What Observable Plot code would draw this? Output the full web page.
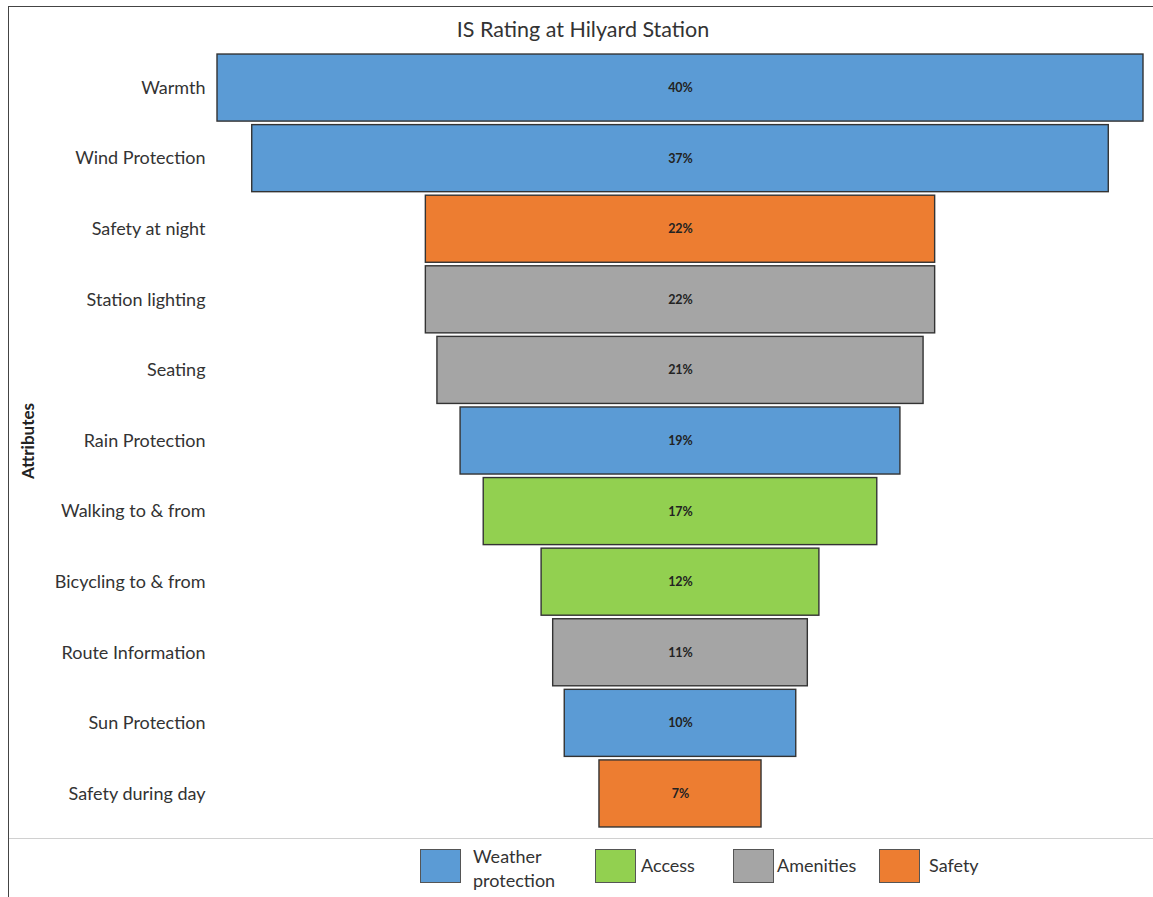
<!DOCTYPE html>
<html>
<head>
<meta charset="utf-8">
<script src="https://cdn.jsdelivr.net/npm/d3@7"></script>
<script src="https://cdn.jsdelivr.net/npm/@observablehq/plot@0.6"></script>
<style>
  html, body { margin: 0; padding: 0; background: #fff; }
  #page {
    position: relative; width: 1153px; height: 897px; overflow: hidden;
    font-family: Lato, "Open Sans", sans-serif; color: #333;
  }
  #frame-top { position: absolute; left: 8px; top: 6px; right: 0; height: 0; border-top: 1.5px solid #444; }
  #frame-left { position: absolute; left: 8px; top: 6px; bottom: 0; width: 0; border-left: 1.5px solid #444; }
  #legend-rule { position: absolute; left: 9px; top: 838px; right: 0; height: 0; border-top: 1px solid #d0d0d0; }
  #title {
    position: absolute; top: 16px; left: 383px; width: 400px; text-align: center;
    font-size: 21.5px; color: #333;
  }
  #chart { position: absolute; left: 0; top: 0; }
  .legend-item { position: absolute; top: 848px; display: flex; align-items: flex-start; }
  .legend-swatch { width: 41px; height: 34px; box-sizing: border-box; border: 1.2px solid #555; margin-top: 1px; }
  .legend-label { font-size: 18px; line-height: 24px; margin-left: 12px; color: #333; }
</style>
</head>
<body>
<div id="page">
  <div id="chart"></div>
  <div id="frame-top"></div>
  <div id="frame-left"></div>
  <div id="legend-rule"></div>
  <div id="title">IS Rating at Hilyard Station</div>
  <div id="legend"></div>
</div>
<script>
// Attributes ranked by share of importance, top to bottom
const attributes = [
  "Warmth", "Wind Protection", "Safety at night", "Station lighting", "Seating",
  "Rain Protection", "Walking to & from", "Bicycling to & from", "Route Information",
  "Sun Protection", "Safety during day"
];
const shares = [40, 37, 22, 22, 21, 19, 17, 12, 11, 10, 7];
const attributeGroups = [
  "Weather protection", "Weather protection", "Safety", "Amenities", "Amenities",
  "Weather protection", "Access", "Access", "Amenities", "Weather protection", "Safety"
];

// Legend categories and their colours
const groupNames = ["Weather protection", "Access", "Amenities", "Safety"];
const groupColors = ["#5B9BD5", "#92D050", "#A5A5A5", "#ED7D31"];
const legendLeft = [420, 595, 733, 879];

const rows = attributes.map((a, i) => ({attribute: a, share: shares[i], group: attributeGroups[i]}));

const chart = Plot.plot({
  width: 1153,
  height: 838,
  marginLeft: 217,
  marginRight: 10,
  marginTop: 50.5,
  marginBottom: 7.5,
  style: {fontFamily: "Lato, 'Open Sans', sans-serif", fontSize: "18px", color: "#333", background: "transparent"},
  x: {domain: [-20, 20], axis: null},
  y: {domain: attributes, padding: 0.05, round: false, label: null},
  color: {domain: groupNames, range: groupColors},
  marks: [
    // funnel bars centred on zero
    Plot.barX(rows, {
      y: "attribute",
      x1: d => -d.share / 2,
      x2: d => d.share / 2,
      fill: "group",
      stroke: "#333",
      strokeWidth: 1.4
    }),
    Plot.text(rows, {
      y: "attribute",
      x: 0,
      text: d => `${d.share}%`,
      fontSize: 12.5,
      fontWeight: "bold",
      fill: "#222"
    }),
    Plot.axisY({tickSize: 0, tickPadding: 12, label: null, fill: "#333"}),
    Plot.text(["Attributes"], {
      frameAnchor: "left",
      dx: -189,
      rotate: -90,
      textAnchor: "middle",
      fontSize: 17,
      fontWeight: "bold",
      fill: "#222"
    })
  ]
});
document.getElementById("chart").appendChild(chart);

// Legend below the chart
const legend = document.getElementById("legend");
groupNames.forEach((name, i) => {
  const item = document.createElement("div");
  item.className = "legend-item";
  item.style.left = legendLeft[i] + "px";
  const sw = document.createElement("div");
  sw.className = "legend-swatch";
  sw.style.background = groupColors[i];
  const lab = document.createElement("div");
  lab.className = "legend-label";
  if (name === "Weather protection") {
    lab.innerHTML = "Weather<br>protection";
    lab.style.marginTop = "-4px";
  } else {
    lab.textContent = name;
    lab.style.marginTop = "5px";
    lab.style.marginLeft = name === "Safety" ? "9px" : (name === "Amenities" ? "3px" : "5px");
  }
  item.appendChild(sw);
  item.appendChild(lab);
  legend.appendChild(item);
});
</script>
</body>
</html>
